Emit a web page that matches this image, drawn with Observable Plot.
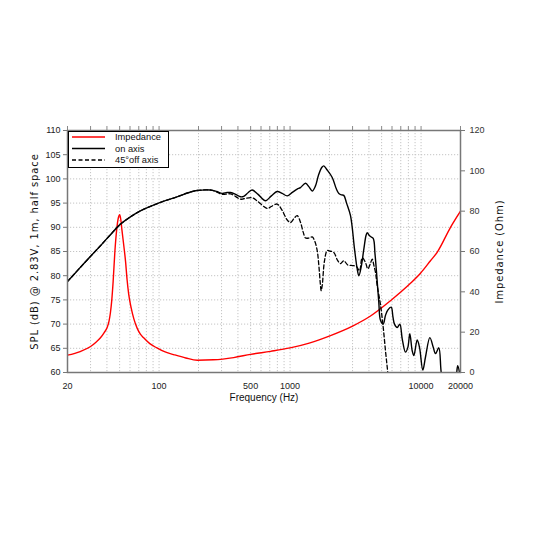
<!DOCTYPE html>
<html><head><meta charset="utf-8">
<script src="https://cdn.jsdelivr.net/npm/d3@7"></script>
<script src="https://cdn.jsdelivr.net/npm/@observablehq/plot@0.6"></script>
<style>
body{margin:0;background:#fff;}
#wrap{position:relative;width:533px;height:533px;}
.ylab text{letter-spacing:0.9px;}
#legend{position:absolute;left:68px;top:131px;}
</style></head><body><div id="wrap"></div>
<script>
// ---- data ----
const onFreq = [20,23.7,30,35.7,42,50,60,72,97,137,174,195,247,275,303,330,351,385,419,443,480,514,570,649,720,797,870,951,1040,1133,1200,1312,1400,1476,1560,1650,1750,1810,1900,2098,2250,2357,2470,2572,2700,2893,3105,3250,3349,3500,3657,3800,3882,4000,4111,4313,4450,4571,4756,4900,5142,5350,5570,5915,6100,6268,6576,6887,7185,7604,7927,8208,8556,8810,9340,9730,10310,10810,11670,12390,12890,13660,14250,15000,17500,18600,19060,19770,20000];
const onSPL  = [78.8,81.0,84.0,86.2,88.3,90.5,92.1,93.4,94.9,96.3,97.3,97.6,97.7,97.4,97.0,97.2,97.2,96.8,96.3,96.4,97.2,97.7,96.8,95.5,96.5,97.4,97.0,96.5,97.2,97.9,98.2,99.1,98.3,97.5,98.5,100.8,102.4,102.7,102.0,100.3,98.0,97.0,96.7,96.6,95.0,92.4,85.5,81.5,80.0,82.0,85.5,88.3,88.9,88.4,88.1,87.7,84.5,80.7,74.5,70.8,70.0,71.8,72.9,73.5,71.5,70.0,69.3,70.0,66.9,64.2,65.2,68.0,64.5,63.5,66.7,65.2,60.5,63.2,67.2,65.2,63.9,65.1,60.0,57,56,59.5,61.4,59.5,58];

const offFreq = [20,23.7,30,35.7,42,50,60,72,97,137,174,195,247,275,303,351,419,443,514,570,669,720,797,870,951,1007,1070,1133,1202,1260,1312,1400,1476,1540,1611,1660,1700,1728,1760,1830,1921,2000,2158,2300,2428,2572,2760,3000,3215,3389,3555,3768,3924,4100,4237,4358,4500,4624,4900,5142,5350,5570,5800];
const offSPL  = [78.8,81.0,84.0,86.2,88.3,90.5,92.1,93.4,94.9,96.3,97.3,97.6,97.7,97.3,96.8,96.9,95.8,95.9,96.1,95.3,93.9,94.3,94.8,93.5,91.5,91.0,91.8,92.4,91.0,89.0,87.8,87.8,88.0,87.2,85.2,82.0,78.5,76.9,78.0,83.0,85.2,85.1,84.8,83.2,82.5,83.1,82.2,82.1,81.9,81.0,83.7,82.7,81.4,82.5,83.4,82.2,80.5,78.0,74.0,69.3,64.5,60.0,55];

const impFreq = [20,25,30,33,35.7,38,40.2,41.5,42.5,43.5,44.6,46,47.5,49,50,51,52,54,55.5,57,58.6,61,64.2,68,72,76.3,85,96.3,110,129,160,196,260,371,500,711,1000,1400,2036,3000,4112,5846,8300,9900,11800,13270,16780,20000];
const impOhm  = [8.6,10.4,12.9,15.0,17.2,19.7,22.4,25.5,29.5,35.5,45,60,71,77,78.2,76,71,62,55,46,39,32.5,26.6,22,19,17.2,14.3,12.2,10.3,8.9,7.2,6.1,6.3,7.4,9.0,10.5,12.2,14.6,18.3,23,28,35.6,44.2,49.2,55.4,59.6,72,80];

const xTickLabels = [20,100,500,1000,10000,20000];
const xGrid = [20,30,40,50,60,70,80,90,100,200,300,400,500,600,700,800,900,1000,2000,3000,4000,5000,6000,7000,8000,9000,10000,20000];
const splTicks = [60,65,70,75,80,85,90,95,100,105,110];
const ohmTicks = [0,20,40,60,80,100,120];
const seriesNames = ["Impedance","on axis","45°off axis"];
const seriesColors = ["#ff0000","#000000","#000000"];
const yLeftLabel = "SPL (dB) @ 2.83V, 1m, half space";
const yRightLabel = "Impedance (Ohm)";
const xLabel = "Frequency (Hz)";

// ---- build tables ----
const onAxis = onFreq.map((f,i)=>({f, v:onSPL[i]}));
const offAxis = offFreq.map((f,i)=>({f, v:offSPL[i]}));
const imped = impFreq.map((f,i)=>({f, o:impOhm[i]}));
// impedance axis: 0..120 Ohm maps onto 60..110 dB
const ohmToDb = o => 60 + o*50/120;
const dbToOhm = d => Math.round((d-60)*120/50);

const plot = Plot.plot({
  width:533, height:533,
  marginLeft:67, marginRight:73, marginTop:130, marginBottom:161,
  style:{fontFamily:"'Liberation Sans', sans-serif", fontSize:"9px", color:"#333", background:"#fff"},
  x:{type:"log", domain:[20,20000]},
  y:{domain:[60,110]},
  marks:[
    Plot.gridX(xGrid, {stroke:"#c4c4c4", strokeOpacity:1, strokeDasharray:"1.2,1.8"}),
    Plot.gridY(splTicks, {stroke:"#c4c4c4", strokeOpacity:1, strokeDasharray:"1.2,1.8"}),
    Plot.text(xTickLabels, {x:d=>d, text:d=>String(d), frameAnchor:"bottom", dy:10.5, lineAnchor:"top", fill:"#222"}),
    Plot.axisX(xGrid, {anchor:"top", tickSize:5, tickFormat:()=>"", label:null, stroke:"#888"}),
    Plot.axisY(splTicks, {anchor:"left", tickSize:4, tickPadding:3, label:null, stroke:"#777", fill:"#222"}),
    Plot.axisY(ohmTicks.map(ohmToDb), {anchor:"right", tickSize:4, tickPadding:5, tickFormat:dbToOhm, label:null, stroke:"#777", fill:"#333"}),
    Plot.text([xLabel], {frameAnchor:"bottom", dy:21.5, lineAnchor:"top", fontSize:10, fill:"#111"}),
    Plot.text([yLeftLabel], {frameAnchor:"left", dx:-33, rotate:-90, textAnchor:"middle", lineAnchor:"middle", fontSize:10, fontFamily:"'DejaVu Sans'", fill:"#111", className:"ylab"}),
    Plot.text([yRightLabel], {frameAnchor:"right", dx:39, rotate:-90, textAnchor:"middle", lineAnchor:"middle", fontSize:10, fontFamily:"'DejaVu Sans'", fill:"#111", className:"ylab"}),
    Plot.line(imped, {x:"f", y:d=>ohmToDb(d.o), stroke:seriesColors[0], strokeWidth:1.4, curve:"monotone-x", clip:true}),
    Plot.line(offAxis, {x:"f", y:"v", stroke:seriesColors[2], strokeWidth:1.3, strokeDasharray:"4,2.5", curve:"catmull-rom", clip:true}),
    Plot.line(onAxis, {x:"f", y:"v", stroke:seriesColors[1], strokeWidth:1.4, curve:"catmull-rom", clip:true}),
    Plot.frame({stroke:"#777", strokeWidth:1.5})
  ]
});
const wrap = document.getElementById("wrap");
wrap.appendChild(plot);

// ---- legend ----
const ns = "http://www.w3.org/2000/svg";
const leg = document.createElementNS(ns,"svg");
leg.setAttribute("id","legend");
leg.setAttribute("width","101"); leg.setAttribute("height","37");
const box = document.createElementNS(ns,"rect");
Object.entries({x:0.5,y:0.5,width:100,height:36,fill:"#fff",stroke:"#000","stroke-width":1}).forEach(([k,v])=>box.setAttribute(k,v));
leg.appendChild(box);
const dashes = [null,null,"4,2.5"];
seriesNames.forEach((name,i)=>{
  const cy = 6 + i*11.5;
  const ln = document.createElementNS(ns,"line");
  Object.entries({x1:4,x2:37,y1:cy,y2:cy,stroke:seriesColors[i],"stroke-width":1.4}).forEach(([k,v])=>ln.setAttribute(k,v));
  if (dashes[i]) ln.setAttribute("stroke-dasharray",dashes[i]);
  leg.appendChild(ln);
  const t = document.createElementNS(ns,"text");
  t.setAttribute("x",47); t.setAttribute("y",cy+3.3);
  t.setAttribute("font-family","'Liberation Sans', sans-serif");
  t.setAttribute("font-size","9.3"); t.setAttribute("fill","#111");
  t.textContent = name;
  leg.appendChild(t);
});
wrap.appendChild(leg);
</script></body></html>
